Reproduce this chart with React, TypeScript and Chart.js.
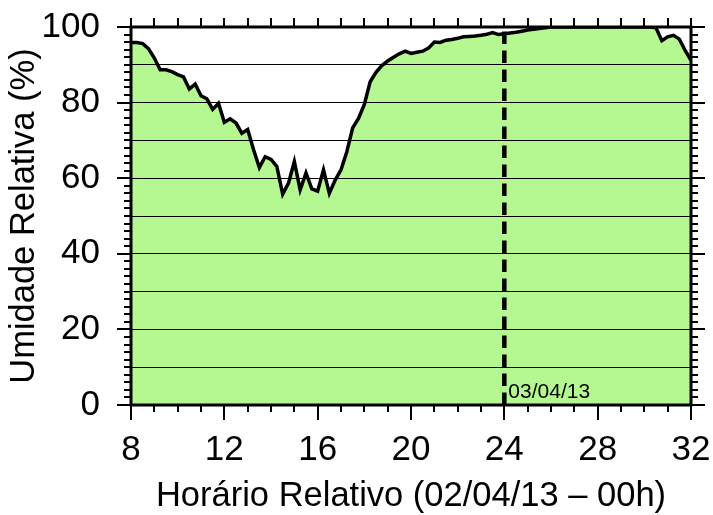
import React, { useEffect, useRef } from 'react';
import { Chart, registerables } from 'chart.js';

Chart.register(...registerables);

// Relative humidity (%) every 15 minutes, from 08h (02/04/13) to 32h (03/04/13 08h)
const START_HOUR = 8;
const STEP_HOURS = 0.25;
const HUMIDITY = [
  95.9, 95.9, 95.6, 94.3, // 8
  91.8, 88.7, 88.7, 88.2, // 9
  87.4, 86.8, 83.6, 84.9, // 10
  81.8, 81.0, 78.2, 79.8, // 11
  74.8, 75.7, 74.6, 71.9, // 12
  72.9, 67.6, 62.8, 65.7, // 13
  65.0, 63.1, 55.8, 58.7, // 14
  64.4, 56.9, 61.4, 57.2, // 15
  56.6, 62.2, 56.0, 59.5, // 16
  62.2, 67.0, 73.3, 75.8, // 17
  79.5, 85.5, 88.0, 89.8, // 18
  91.0, 92.0, 92.9, 93.6, // 19
  93.0, 93.3, 93.6, 94.4, // 20
  96.0, 95.9, 96.5, 96.7, // 21
  97.0, 97.4, 97.5, 97.6, // 22
  97.8, 98.1, 98.5, 98.0, // 23
  98.2, 98.4, 98.6, 98.9, // 24
  99.2, 99.4, 99.6, 99.8, // 25
  100, 100, 100, 100,     // 26
  100, 100, 100, 100,     // 27
  100, 100, 100, 100,     // 28
  100, 100, 100, 100,     // 29
  100, 100, 99.8, 96.4,   // 30
  97.4, 97.8, 96.8, 93.8, // 31
  91.2,                   // 32
];

const X_MIN = 8;
const X_MAX = 32;
const X_TICKS = [8, 12, 16, 20, 24, 28, 32];
const Y_MIN = 0;
const Y_MAX = 100;
const Y_LABEL_STEP = 20;
const Y_GRID_STEP = 10;
const MARKER_HOUR = 24;
const MARKER_LABEL = '03/04/13';
const X_TITLE = 'Horário Relativo (02/04/13 – 00h)';
const Y_TITLE = 'Umidade Relativa (%)';

const FONT = 'Liberation Sans';
const FILL = '#b5f790';

const framePlugin = {
  id: 'frameAndMarks',
  afterDraw(chart: any) {
    const { ctx, chartArea } = chart;
    const { left, right, top, bottom } = chartArea;
    const xs = chart.scales.x;
    const ys = chart.scales.y;
    ctx.save();

    // dashed date marker
    const mx = xs.getPixelForValue(MARKER_HOUR);
    ctx.strokeStyle = '#000';
    ctx.lineWidth = 4.5;
    ctx.setLineDash([12.5, 6.5]);
    ctx.beginPath();
    ctx.moveTo(mx, bottom);
    ctx.lineTo(mx, top);
    ctx.stroke();
    ctx.setLineDash([]);

    ctx.fillStyle = '#000';
    ctx.font = `21px "${FONT}"`;
    ctx.textAlign = 'left';
    ctx.textBaseline = 'alphabetic';
    ctx.fillText(MARKER_LABEL, mx + 4, bottom - 7);

    // tick marks
    ctx.lineWidth = 2;
    ctx.beginPath();
    for (let h = X_MIN; h <= X_MAX; h += 1) {
      const px = Math.round(xs.getPixelForValue(h));
      const major = h % 4 === 0;
      ctx.moveTo(px, bottom);
      ctx.lineTo(px, bottom + (major ? 15 : 7));
      ctx.moveTo(px, top);
      ctx.lineTo(px, top - 9);
    }
    for (let v = Y_MIN; v <= Y_MAX; v += 2) {
      const py = Math.round(ys.getPixelForValue(v));
      const major = v % 20 === 0;
      ctx.moveTo(left, py);
      ctx.lineTo(left - (major ? 14 : 7), py);
      ctx.moveTo(right, py);
      ctx.lineTo(right + (major ? 14 : 7), py);
    }
    ctx.stroke();

    // frame
    ctx.lineWidth = 3;
    ctx.strokeRect(left, top, right - left, bottom - top);
    ctx.restore();
  },
};

export default function App() {
  const ref = useRef<HTMLCanvasElement | null>(null);

  useEffect(() => {
    if (!ref.current) return;
    const points = HUMIDITY.map((v, i) => ({ x: START_HOUR + i * STEP_HOURS, y: v }));
    const chart = new Chart(ref.current, {
      type: 'line',
      data: {
        datasets: [
          {
            data: points,
            borderColor: '#000',
            borderWidth: 3.5,
            backgroundColor: FILL,
            fill: 'origin',
            pointRadius: 0,
            tension: 0,
          },
        ],
      },
      options: {
        animation: false,
        responsive: false,
        maintainAspectRatio: false,
        layout: { padding: { left: 0, right: 22, top: 27, bottom: 0 } },
        plugins: { legend: { display: false }, tooltip: { enabled: false } },
        scales: {
          x: {
            type: 'linear',
            min: X_MIN,
            max: X_MAX,
            afterBuildTicks: (s: any) => {
              s.ticks = X_TICKS.map((v) => ({ value: v }));
            },
            afterFit: (s: any) => {
              s.height = 110;
              s.paddingLeft = 0;
              s.paddingRight = 0;
            },
            grid: { display: false, drawTicks: false },
            border: { display: false },
            ticks: {
              color: '#000',
              padding: 24,
              maxRotation: 0,
              autoSkip: false,
              font: { family: FONT, size: 35 },
              callback: (v: any) => String(v),
            },
            title: {
              display: true,
              text: X_TITLE,
              color: '#000',
              padding: { top: 0, bottom: 0 },
              font: { family: FONT, size: 34.5, lineHeight: 1.1 },
            },
          },
          y: {
            type: 'linear',
            min: Y_MIN,
            max: Y_MAX,
            afterFit: (s: any) => {
              s.width = 131;
              s.paddingTop = 0;
              s.paddingBottom = 0;
            },
            grid: { display: true, color: '#000', lineWidth: 1, drawTicks: false, z: 1 },
            border: { display: false },
            ticks: {
              stepSize: Y_GRID_STEP,
              color: '#000',
              padding: 31,
              autoSkip: false,
              font: { family: FONT, size: 35 },
              callback: (v: any) => (Number(v) % Y_LABEL_STEP === 0 ? String(v) : ''),
            },
            title: {
              display: true,
              text: Y_TITLE,
              color: '#000',
              padding: { top: 6, bottom: 0 },
              font: { family: FONT, size: 34.5, lineHeight: 1.1 },
            },
          },
        },
      },
      plugins: [framePlugin],
    });
    return () => chart.destroy();
  }, []);

  return (
    <div style={{ position: 'fixed', left: 0, top: 0, width: 713, height: 515, background: '#fff' }}>
      <canvas ref={ref} width={713} height={515} style={{ display: 'block' }} />
    </div>
  );
}
